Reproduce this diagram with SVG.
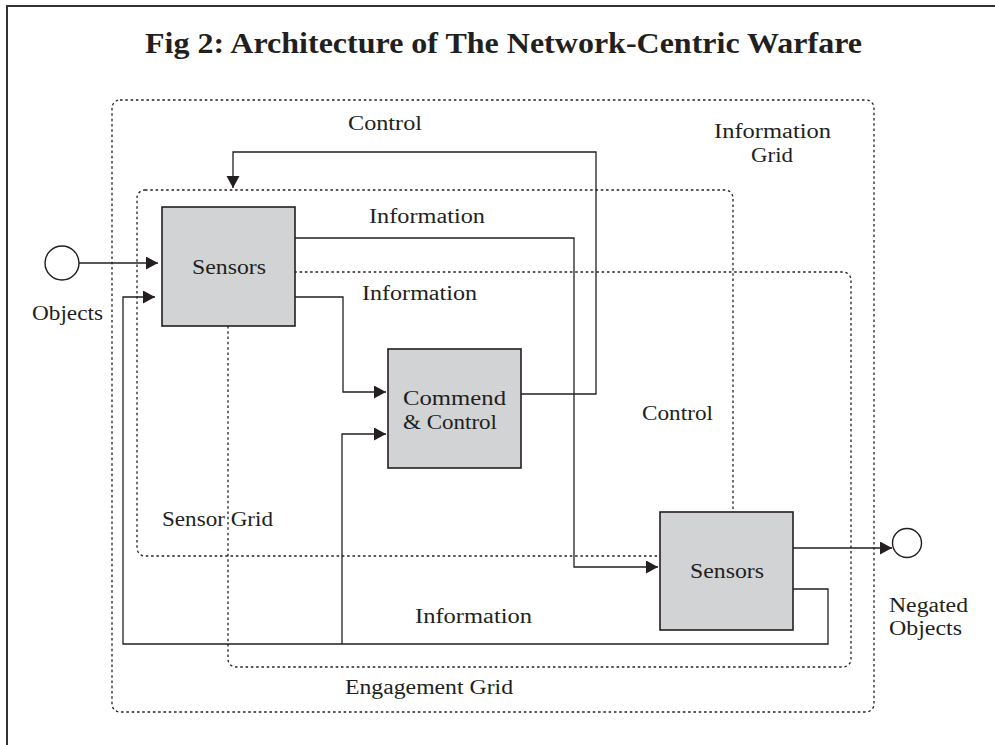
<svg xmlns="http://www.w3.org/2000/svg" width="995" height="745" viewBox="0 0 995 745">
  <style>
    .lbl { font-family: "Liberation Serif", "DejaVu Serif", serif; font-size: 20.5px; fill: #231f20; }
    .title { font-family: "Liberation Serif", "DejaVu Serif", serif; font-size: 30px; font-weight: bold; fill: #231f20; }
    .grid { fill: none; stroke: #231f20; stroke-width: 1.3; stroke-dasharray: 2.5 2.8; }
    .box { fill: #d1d3d4; stroke: #231f20; stroke-width: 1.6; }
    .wire { fill: none; stroke: #231f20; stroke-width: 1.3; }
    .term { fill: #ffffff; stroke: #231f20; stroke-width: 1.4; }
  </style>
  <defs>
    <marker id="arrow" markerUnits="userSpaceOnUse" markerWidth="13" markerHeight="14" refX="12" refY="6.5" orient="auto">
      <path d="M0,0 L12,6.5 L0,13 Z" fill="#231f20"/>
    </marker>
  </defs>

  <rect width="995" height="745" fill="#ffffff"/>
  <!-- page frame (open on the right and bottom) -->
  <path d="M7,745 V6 H995" fill="none" stroke="#333333" stroke-width="2"/>

  <text class="title" x="145" y="53" textLength="717" lengthAdjust="spacingAndGlyphs">Fig 2: Architecture of The Network-Centric Warfare</text>

  <!-- grids -->
  <g id="information-grid">
    <rect class="grid" x="112" y="100" width="762" height="612" rx="8"/>
    <text class="lbl" x="714" y="138" textLength="117" lengthAdjust="spacingAndGlyphs">Information</text>
    <text class="lbl" x="751" y="162" textLength="42" lengthAdjust="spacingAndGlyphs">Grid</text>
  </g>
  <g id="sensor-grid">
    <rect class="grid" x="137" y="190" width="596" height="366" rx="8"/>
    <text class="lbl" x="162" y="526" textLength="111" lengthAdjust="spacingAndGlyphs">Sensor Grid</text>
  </g>
  <g id="engagement-grid">
    <rect class="grid" x="228" y="272" width="623" height="395" rx="8"/>
    <text class="lbl" x="345" y="694" textLength="168" lengthAdjust="spacingAndGlyphs">Engagement Grid</text>
  </g>

  <!-- connectors -->
  <g id="connectors">
    <path class="wire" d="M79,263 H158" marker-end="url(#arrow)"/>
    <path class="wire" d="M793,589 H828 V644 H123 V297 H155" marker-end="url(#arrow)"/>
    <path class="wire" d="M342,644 V434 H386" marker-end="url(#arrow)"/>
    <path class="wire" d="M295,238 H574 V567 H658" marker-end="url(#arrow)"/>
    <path class="wire" d="M295,297 H343 V392 H386" marker-end="url(#arrow)"/>
    <path class="wire" d="M521,394 H596 V152 H233 V188" marker-end="url(#arrow)"/>
    <path class="wire" d="M793,548 H892" marker-end="url(#arrow)"/>
    <text class="lbl" x="348" y="130" textLength="74" lengthAdjust="spacingAndGlyphs">Control</text>
    <text class="lbl" x="369" y="223" textLength="116" lengthAdjust="spacingAndGlyphs">Information</text>
    <text class="lbl" x="362" y="300" textLength="115" lengthAdjust="spacingAndGlyphs">Information</text>
    <text class="lbl" x="642" y="420" textLength="71" lengthAdjust="spacingAndGlyphs">Control</text>
    <text class="lbl" x="415" y="623" textLength="117" lengthAdjust="spacingAndGlyphs">Information</text>
  </g>

  <!-- nodes -->
  <g id="objects">
    <circle class="term" cx="62" cy="263" r="17"/>
    <text class="lbl" x="32" y="320" textLength="71" lengthAdjust="spacingAndGlyphs">Objects</text>
  </g>
  <g id="sensors-1">
    <rect class="box" x="162" y="207" width="133" height="119"/>
    <text class="lbl" x="192" y="274" textLength="74" lengthAdjust="spacingAndGlyphs">Sensors</text>
  </g>
  <g id="command-control">
    <rect class="box" x="388" y="349" width="133" height="119"/>
    <text class="lbl" x="403" y="405" textLength="103" lengthAdjust="spacingAndGlyphs">Commend</text>
    <text class="lbl" x="403" y="429" textLength="94" lengthAdjust="spacingAndGlyphs">&amp; Control</text>
  </g>
  <g id="sensors-2">
    <rect class="box" x="660" y="512" width="133" height="118"/>
    <text class="lbl" x="690" y="578" textLength="74" lengthAdjust="spacingAndGlyphs">Sensors</text>
  </g>
  <g id="negated-objects">
    <circle class="term" cx="907" cy="543" r="14.5"/>
    <text class="lbl" x="889" y="612" textLength="79" lengthAdjust="spacingAndGlyphs">Negated</text>
    <text class="lbl" x="889" y="635" textLength="73" lengthAdjust="spacingAndGlyphs">Objects</text>
  </g>
</svg>
